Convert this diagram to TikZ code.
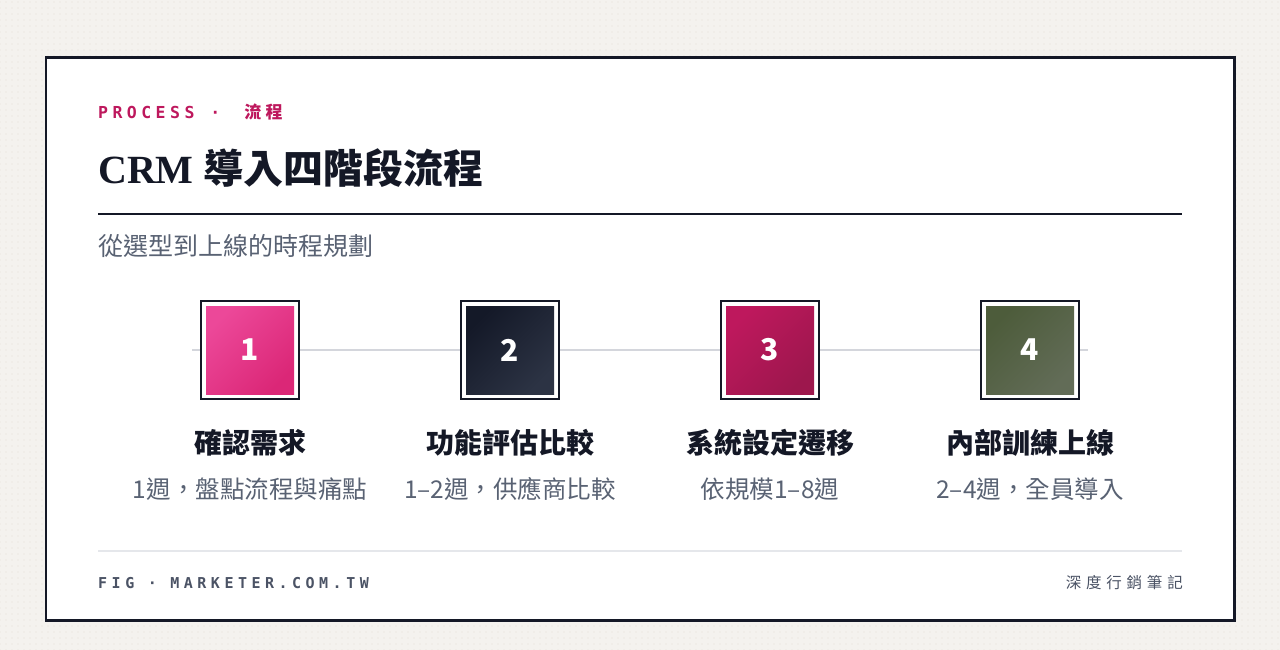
\documentclass[tikz,border=0pt]{standalone}
\usepackage{fontspec}
\setmainfont{Liberation Serif}
\newfontfamily\cjk{Noto Sans CJK TC}
\newfontfamily\cjksp[LetterSpace=25]{Noto Sans CJK TC}
\newfontfamily\cjkspw[LetterSpace=31]{Noto Sans CJK TC}
\newfontfamily\monosp[LetterSpace=27]{DejaVu Sans Mono}
\newfontfamily\monospw[LetterSpace=30]{DejaVu Sans Mono}
\usetikzlibrary{patterns.meta,calc}
\definecolor{ink}{HTML}{141826}
\definecolor{bgc}{HTML}{F4F2EE}
\definecolor{dotc}{HTML}{E3DFD8}
\definecolor{kick}{HTML}{BE185D}
\definecolor{subc}{HTML}{596273}
\definecolor{footc}{HTML}{4B5365}
\definecolor{trackc}{HTML}{D4D6DC}
\definecolor{footrulec}{HTML}{E5E7EB}
\definecolor{aA}{HTML}{EC4899}\definecolor{aB}{HTML}{DB2777}
\definecolor{bA}{HTML}{141928}\definecolor{bB}{HTML}{2C3344}
\definecolor{cA}{HTML}{BE185D}\definecolor{cB}{HTML}{9D174D}
\definecolor{dA}{HTML}{4D5C3B}\definecolor{dB}{HTML}{626C57}
\tikzset{
  frame/.style={rectangle, draw=ink, line width=2pt, fill=white, minimum size=98pt, inner sep=0pt},
  tile/.style={rectangle, minimum size=88pt, inner sep=0pt, text=white, font=\cjk\bfseries\fontsize{30}{36}\selectfont},
  steplabel/.style={text=ink, font=\cjk\bfseries\fontsize{28}{34}\selectfont, inner sep=0pt},
  stepnote/.style={text=subc, font=\cjk\fontsize{24.5}{29}\selectfont, inner sep=0pt},
  track/.style={draw=trackc, line width=2pt},
}
\begin{document}
\begin{tikzpicture}[x=1pt,y=-1pt]
\useasboundingbox (0,0) rectangle (1280,650);
\fill[bgc] (0,0) rectangle (1280,650);
\fill[pattern={Dots[distance=6pt,radius=0.7pt]}, pattern color=dotc] (0,0) rectangle (1280,650);
\draw[ink, line width=2.5pt, fill=white] (46,57.5) rectangle (1234.5,620.5);

\node[anchor=west, text=kick, inner sep=0pt] (kicker) at (98,111.5)
  {\monosp\bfseries\fontsize{16.5}{20}\selectfont PROCESS\hspace{16pt}·\hspace{24pt}{\cjksp\bfseries\fontsize{17}{20}\selectfont 流程}};
\node[anchor=west, text=ink, inner sep=0pt] (title) at (98,168.5)
  {\bfseries\fontsize{40}{48}\selectfont CRM {\cjk 導入四階段流程}};
\coordinate (ruleL) at (98,214); \coordinate (ruleR) at (1182,214);
\draw[ink, line width=2pt] (ruleL) -- (ruleR);
\node[anchor=west, text=subc, inner sep=0pt] (subtitle) at (98,245.5)
  {\cjk\fontsize{25}{30}\selectfont 從選型到上線的時程規劃};

\coordinate (lineL) at (192,350); \coordinate (lineR) at (1088,350);
\draw[track] (lineL) -- (lineR);

\node[frame] (f1) at (250,350) {};
\node[frame] (f2) at (510,350) {};
\node[frame] (f3) at (770,350) {};
\node[frame] (f4) at (1030,350) {};
\node[tile, top color=aA, bottom color=aB, shading angle=45] (n1) at (f1.center) {1};
\node[tile, top color=bA, bottom color=bB, shading angle=45] (n2) at (f2.center) {2};
\node[tile, top color=cA, bottom color=cB, shading angle=45] (n3) at (f3.center) {3};
\node[tile, top color=dA, bottom color=dB, shading angle=45] (n4) at (f4.center) {4};

\node[steplabel] (l1) at (250,443) {確認需求};
\node[steplabel] (l2) at (510,443) {功能評估比較};
\node[steplabel] (l3) at (770,443) {系統設定遷移};
\node[steplabel] (l4) at (1030,443) {內部訓練上線};
\node[stepnote] (d1) at (250,489) {1週，盤點流程與痛點};
\node[stepnote] (d2) at (510,489) {1–2週，供應商比較};
\node[stepnote] (d3) at (770,489) {依規模1–8週};
\node[stepnote] (d4) at (1030,489) {2–4週，全員導入};

\coordinate (footL) at (98,551); \coordinate (footR) at (1182,551);
\draw[footrulec, line width=1.5pt] (footL) -- (footR);
\node[anchor=west, text=footc, inner sep=0pt] (fig) at (98,583)
  {\monospw\bfseries\fontsize{15}{18}\selectfont FIG · MARKETER.COM.TW};
\node[anchor=east, text=footc, inner sep=0pt] (brand) at (1183,583)
  {\cjkspw\fontsize{15.5}{18}\selectfont 深度行銷筆記};
\end{tikzpicture}
\end{document}
